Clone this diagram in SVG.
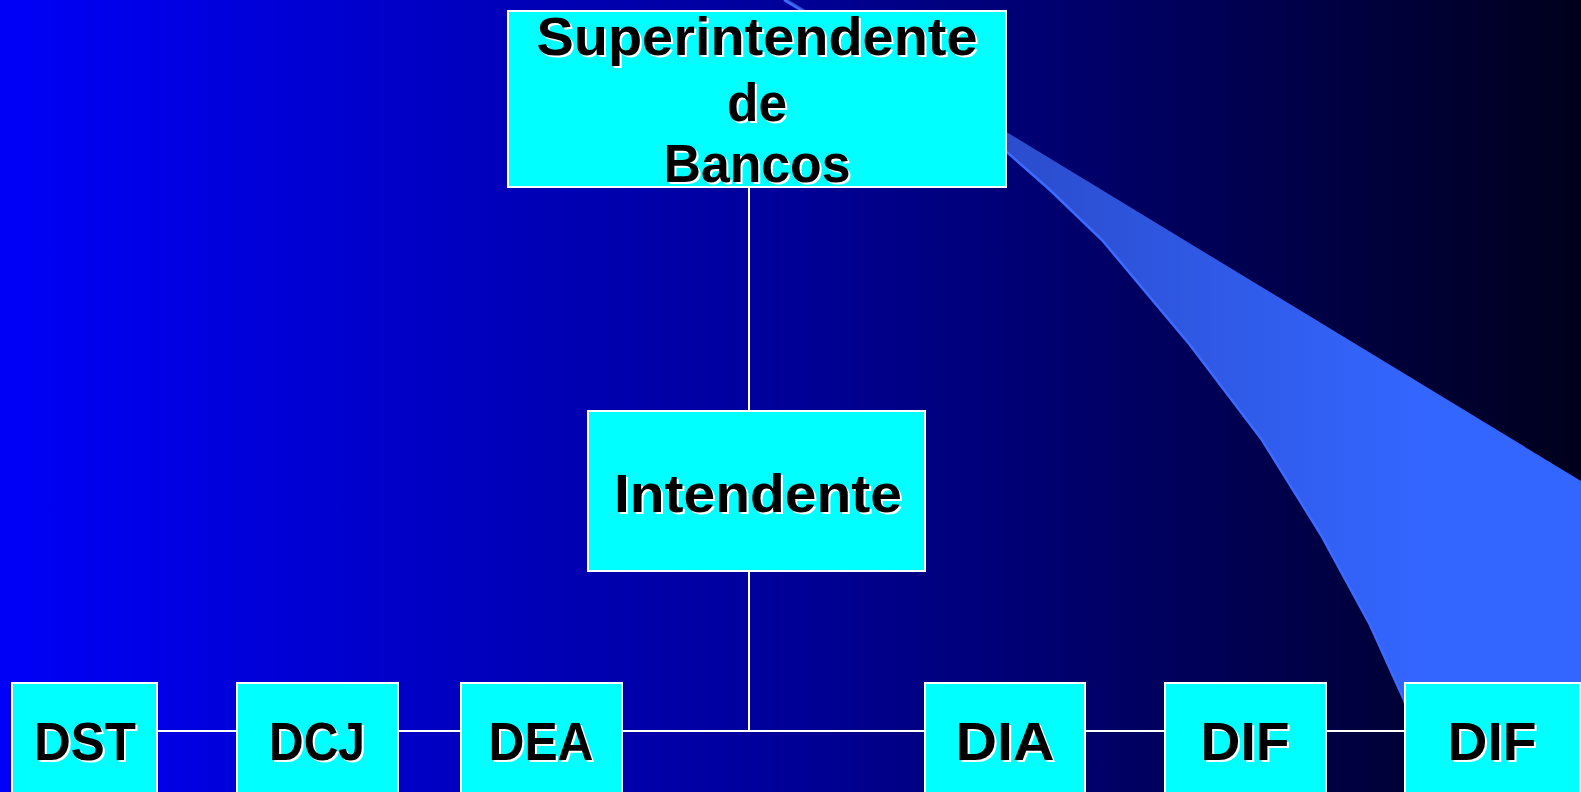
<svg xmlns="http://www.w3.org/2000/svg" width="1581" height="792" viewBox="0 0 1581 792">
  <defs>
    <linearGradient id="bg" x1="0" y1="0" x2="1581" y2="0" gradientUnits="userSpaceOnUse">
      <stop offset="0" stop-color="#0000F8"/>
      <stop offset="0.5" stop-color="#000098"/>
      <stop offset="1" stop-color="#00001C"/>
    </linearGradient>
    <linearGradient id="sw" x1="1000" y1="0" x2="1420" y2="0" gradientUnits="userSpaceOnUse">
      <stop offset="0" stop-color="#2B4CCC"/>
      <stop offset="1" stop-color="#3366FF"/>
    </linearGradient>
    <style>
      .box { fill: #00FFFF; stroke: #FFFFFF; stroke-width: 2; }
      .conn { stroke: #FFFFFF; stroke-width: 2; fill: none; }
      .t { font-family: "Liberation Sans", Arial, sans-serif; font-weight: bold; font-size: 54px; text-anchor: middle; }
      .fg { fill: #000000; }
      .sh { fill: #FFFFFF; }
    </style>
  </defs>

  <rect x="0" y="0" width="1581" height="792" fill="url(#bg)"/>

  <g id="swoosh">
    <polygon fill="url(#sw)" points="784,0 789,0 1581,481 1581,792 1432,792 1404,700 1370,625 1321,535 1262,440 1190,345 1102,240 1050,190 1008,153 900,70"/>
    <polyline fill="none" stroke="#3D6BFF" stroke-width="2.5" points="784,0 900,70 1008,153 1050,190 1102,240 1190,345 1262,440 1321,535 1370,625 1404,700 1432,792"/>
  </g>

  <g id="connectors">
    <line class="conn" x1="749" y1="187" x2="749" y2="411"/>
    <line class="conn" x1="749" y1="571" x2="749" y2="731"/>
    <line class="conn" x1="157" y1="731" x2="1405" y2="731"/>
  </g>

  <g id="node-superintendente">
    <rect class="box" x="508" y="11" width="498" height="176"/>
    <g class="t sh" transform="translate(2,2)">
      <text x="757" y="55" textLength="441" lengthAdjust="spacingAndGlyphs">Superintendente</text>
      <text x="757" y="121" textLength="60" lengthAdjust="spacingAndGlyphs">de</text>
      <text x="757" y="182" textLength="187" lengthAdjust="spacingAndGlyphs">Bancos</text>
    </g>
    <g class="t fg">
      <text x="757" y="55" textLength="441" lengthAdjust="spacingAndGlyphs">Superintendente</text>
      <text x="757" y="121" textLength="60" lengthAdjust="spacingAndGlyphs">de</text>
      <text x="757" y="182" textLength="187" lengthAdjust="spacingAndGlyphs">Bancos</text>
    </g>
  </g>

  <g id="node-intendente">
    <rect class="box" x="588" y="411" width="337" height="160"/>
    <text class="t sh" x="760" y="514" textLength="288" lengthAdjust="spacingAndGlyphs">Intendente</text>
    <text class="t fg" x="758" y="512" textLength="288" lengthAdjust="spacingAndGlyphs">Intendente</text>
  </g>

  <g id="node-dst">
    <rect class="box" x="12" y="683" width="145" height="120"/>
    <text class="t sh" x="87" y="762" textLength="102" lengthAdjust="spacingAndGlyphs">DST</text>
    <text class="t fg" x="85" y="760" textLength="102" lengthAdjust="spacingAndGlyphs">DST</text>
  </g>

  <g id="node-dcj">
    <rect class="box" x="237" y="683" width="161" height="120"/>
    <text class="t sh" x="319" y="762" textLength="96" lengthAdjust="spacingAndGlyphs">DCJ</text>
    <text class="t fg" x="317" y="760" textLength="96" lengthAdjust="spacingAndGlyphs">DCJ</text>
  </g>

  <g id="node-dea">
    <rect class="box" x="461" y="683" width="161" height="120"/>
    <text class="t sh" x="543" y="762" textLength="105" lengthAdjust="spacingAndGlyphs">DEA</text>
    <text class="t fg" x="541" y="760" textLength="105" lengthAdjust="spacingAndGlyphs">DEA</text>
  </g>

  <g id="node-dia">
    <rect class="box" x="925" y="683" width="160" height="120"/>
    <text class="t sh" x="1007" y="762" textLength="99" lengthAdjust="spacingAndGlyphs">DIA</text>
    <text class="t fg" x="1005" y="760" textLength="99" lengthAdjust="spacingAndGlyphs">DIA</text>
  </g>

  <g id="node-dif1">
    <rect class="box" x="1165" y="683" width="161" height="120"/>
    <text class="t sh" x="1247" y="762" textLength="89" lengthAdjust="spacingAndGlyphs">DIF</text>
    <text class="t fg" x="1245" y="760" textLength="89" lengthAdjust="spacingAndGlyphs">DIF</text>
  </g>

  <g id="node-dif2">
    <rect class="box" x="1405" y="683" width="175" height="120"/>
    <text class="t sh" x="1494" y="762" textLength="89" lengthAdjust="spacingAndGlyphs">DIF</text>
    <text class="t fg" x="1492" y="760" textLength="89" lengthAdjust="spacingAndGlyphs">DIF</text>
  </g>
</svg>
